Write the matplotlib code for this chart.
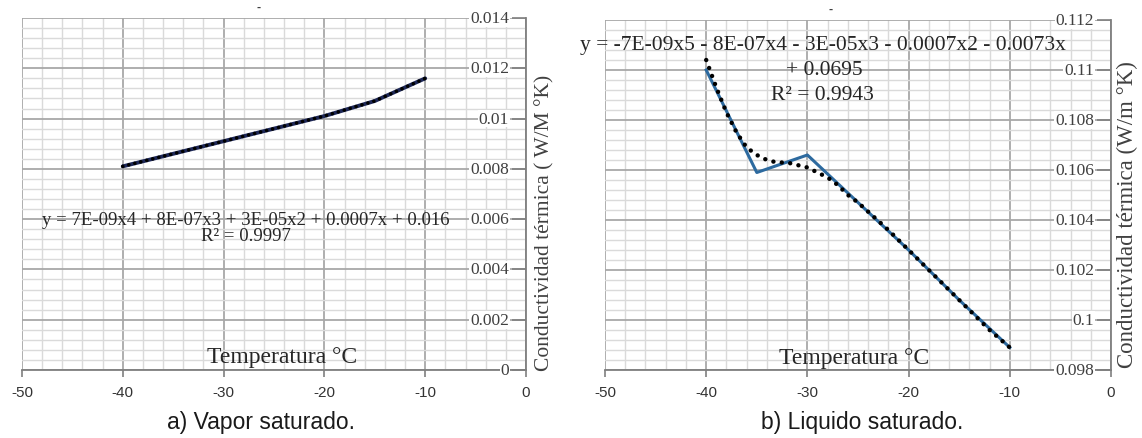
import matplotlib
matplotlib.use("Agg")
import matplotlib.pyplot as plt
from matplotlib.ticker import MultipleLocator

# ---------------- data ----------------
temp_vapor = [-40, -35, -30, -25, -20, -15, -10]
k_vapor = [0.0081, 0.0086, 0.0091, 0.0096, 0.0101, 0.0107, 0.0116]
trend_vapor_x = [-40, -35, -30, -25, -20, -15, -10]
trend_vapor_y = [0.0081, 0.0086, 0.0091, 0.0096, 0.0101, 0.0107, 0.0116]

temp_liq = [-40, -35, -30, -25, -20, -15, -10]
k_liq = [0.1100, 0.1059, 0.1066, 0.1047, 0.1028, 0.1008, 0.0989]
trend_liq_x = [-40, -39, -38, -37, -36, -35, -34, -33, -32, -31, -30,
               -29, -28, -27, -26, -25, -22, -20, -18, -15, -12, -10]
trend_liq_y = [0.1104, 0.1093, 0.1083, 0.1075, 0.1069, 0.1066, 0.1064,
               0.1063, 0.1063, 0.1062, 0.1061, 0.1059, 0.1057, 0.1054,
               0.1050, 0.1047, 0.1036, 0.1028, 0.1020, 0.1008, 0.0996, 0.0989]

xticks = [-50, -40, -30, -20, -10, 0]
yticks_vapor = [0, 0.002, 0.004, 0.006, 0.008, 0.01, 0.012, 0.014]
ytick_labels_vapor = ["0", "0.002", "0.004", "0.006", "0.008", "0.01", "0.012", "0.014"]
yticks_liq = [0.098, 0.1, 0.102, 0.104, 0.106, 0.108, 0.11, 0.112]
ytick_labels_liq = ["0.098", "0.1", "0.102", "0.104", "0.106", "0.108", "0.11", "0.112"]

eq_vapor = "y = 7E-09x4 + 8E-07x3 + 3E-05x2 + 0.0007x + 0.016"
r2_vapor = "R² = 0.9997"
eq_liq_1 = "y = -7E-09x5 - 8E-07x4 - 3E-05x3 - 0.0007x2 - 0.0073x"
eq_liq_2 = "+ 0.0695"
r2_liq = "R² = 0.9943"
xlabel = "Temperatura °C"
ylabel_vapor = "Conductividad térmica ( W/M °K)"
ylabel_liq = "Conductividad térmica (W/m °K)"
caption_a = "a) Vapor saturado."
caption_b = "b) Liquido saturado."

SERIF = ["Liberation Serif", "DejaVu Serif"]
SANS = ["Liberation Sans", "DejaVu Sans"]

W, H = 1142, 439
fig = plt.figure(figsize=(W / 100, H / 100), dpi=100)
fig.patch.set_facecolor("white")

def px_axes(x0, x1, ytop, ybot):
    return fig.add_axes([x0 / W, (H - ybot) / H, (x1 - x0) / W, (ybot - ytop) / H])

ax1 = px_axes(22, 526, 19, 371)
ax2 = px_axes(605, 1111, 21, 371)

def style(ax, yticks, ylabels, ymin, ymax):
    ax.set_xlim(-50, 0)
    ax.set_ylim(ymin, ymax)
    ax.xaxis.set_major_locator(MultipleLocator(10))
    ax.xaxis.set_minor_locator(MultipleLocator(2))
    ax.yaxis.set_major_locator(MultipleLocator(0.002))
    ax.yaxis.set_minor_locator(MultipleLocator(0.0004))
    ax.grid(which="minor", color="#dadada", linewidth=1.0, zorder=0)
    ax.grid(which="major", color="#a8a8a8", linewidth=1.3, zorder=0)
    ax.set_axisbelow(True)
    for s in ["left", "top"]:
        ax.spines[s].set_visible(False)
    ax.spines["bottom"].set_color("#7f7f7f")
    ax.spines["right"].set_color("#7f7f7f")
    ax.spines["bottom"].set_linewidth(1.3)
    ax.spines["right"].set_linewidth(1.3)
    ax.set_xticks(xticks)
    ax.set_xticklabels([str(t) for t in xticks], fontfamily=SANS, fontsize=11,
                       color="#333333")
    ax.tick_params(axis="x", which="major", length=5, width=1.2, color="#7f7f7f",
                   pad=6, direction="out")
    ax.tick_params(axis="x", which="minor", length=0)
    ax.yaxis.tick_right()
    ax.set_yticks(yticks)
    ax.tick_params(axis="y", which="major", direction="in", length=10, width=1.2,
                   color="#7f7f7f", labelright=False, labelleft=False)
    ax.tick_params(axis="y", which="minor", length=0)
    for v, lab in zip(yticks, ylabels):
        ax.annotate(lab, xy=(0, v), xycoords="data", xytext=(-17, 0),
                    textcoords="offset pixels", ha="right", va="center",
                    fontfamily=SERIF, fontsize=12.5, color="#404040",
                    bbox=dict(boxstyle="square,pad=0.05", fc="white", ec="none"),
                    zorder=5, annotation_clip=False)

style(ax1, yticks_vapor, ytick_labels_vapor, 0, 0.014)
style(ax2, yticks_liq, ytick_labels_liq, 0.098, 0.112)

# series
ax1.plot(temp_vapor, k_vapor, color="#1d2756", linewidth=2.8, zorder=3,
         solid_capstyle="round")
ax1.plot(trend_vapor_x, trend_vapor_y, color="black", linewidth=2.6,
         linestyle=(0, (0.01, 1.7)), dash_capstyle="round", zorder=4)

ax2.plot(temp_liq, k_liq, color="#2d6a9f", linewidth=2.2, zorder=3)
ax2.plot(trend_liq_x, trend_liq_y, color="black", linewidth=3.2,
         linestyle=(0, (0.01, 1.9)), dash_capstyle="round", zorder=4)

# equations
ax1.text(-27.8, 0.00600, eq_vapor, ha="center", va="center", fontfamily=SERIF,
         fontsize=13.5, color="#262626", zorder=6)
ax1.text(-27.8, 0.00535, r2_vapor, ha="center", va="center", fontfamily=SERIF,
         fontsize=13.5, color="#262626", zorder=6)

ax2.text(-28.5, 0.11104, eq_liq_1, ha="center", va="center", fontfamily=SERIF,
         fontsize=15.5, color="#262626", zorder=6)
ax2.text(-28.3, 0.11004, eq_liq_2, ha="center", va="center", fontfamily=SERIF,
         fontsize=15.5, color="#262626", zorder=6)
ax2.text(-28.5, 0.10904, r2_liq, ha="center", va="center", fontfamily=SERIF,
         fontsize=15.5, color="#262626", zorder=6)

# axis titles (Excel style, inside plot)
ax1.text(-24.2, 0.00055, xlabel, ha="center", va="center", fontfamily=SERIF,
         fontsize=17, color="#262626", zorder=6)
ax2.text(-25.4, 0.0985, xlabel, ha="center", va="center", fontfamily=SERIF,
         fontsize=17, color="#262626", zorder=6)

fig.text(545 / W, 1 - 223 / H, ylabel_vapor, rotation=90, ha="center", va="center",
         fontfamily=SERIF, fontsize=15.5, color="#404040")
fig.text(1127 / W, 1 - 215 / H, ylabel_liq, rotation=90, ha="center", va="center",
         fontfamily=SERIF, fontsize=16.5, color="#404040")

# tiny title marks
fig.text(259 / W, 1 - 8 / H, "-", ha="center", va="center", fontfamily=SANS,
         fontsize=9, color="#404040", fontweight="bold")
fig.text(831 / W, 1 - 10 / H, "-", ha="center", va="center", fontfamily=SANS,
         fontsize=9, color="#404040", fontweight="bold")

# captions
fig.text(261 / W, 1 - 423 / H, caption_a, ha="center", va="center", fontfamily=SANS,
         fontsize=16.5, color="#1a1a1a")
fig.text(862 / W, 1 - 423 / H, caption_b, ha="center", va="center", fontfamily=SANS,
         fontsize=16.5, color="#1a1a1a")

fig.savefig("out.png", dpi=100, facecolor="white")
